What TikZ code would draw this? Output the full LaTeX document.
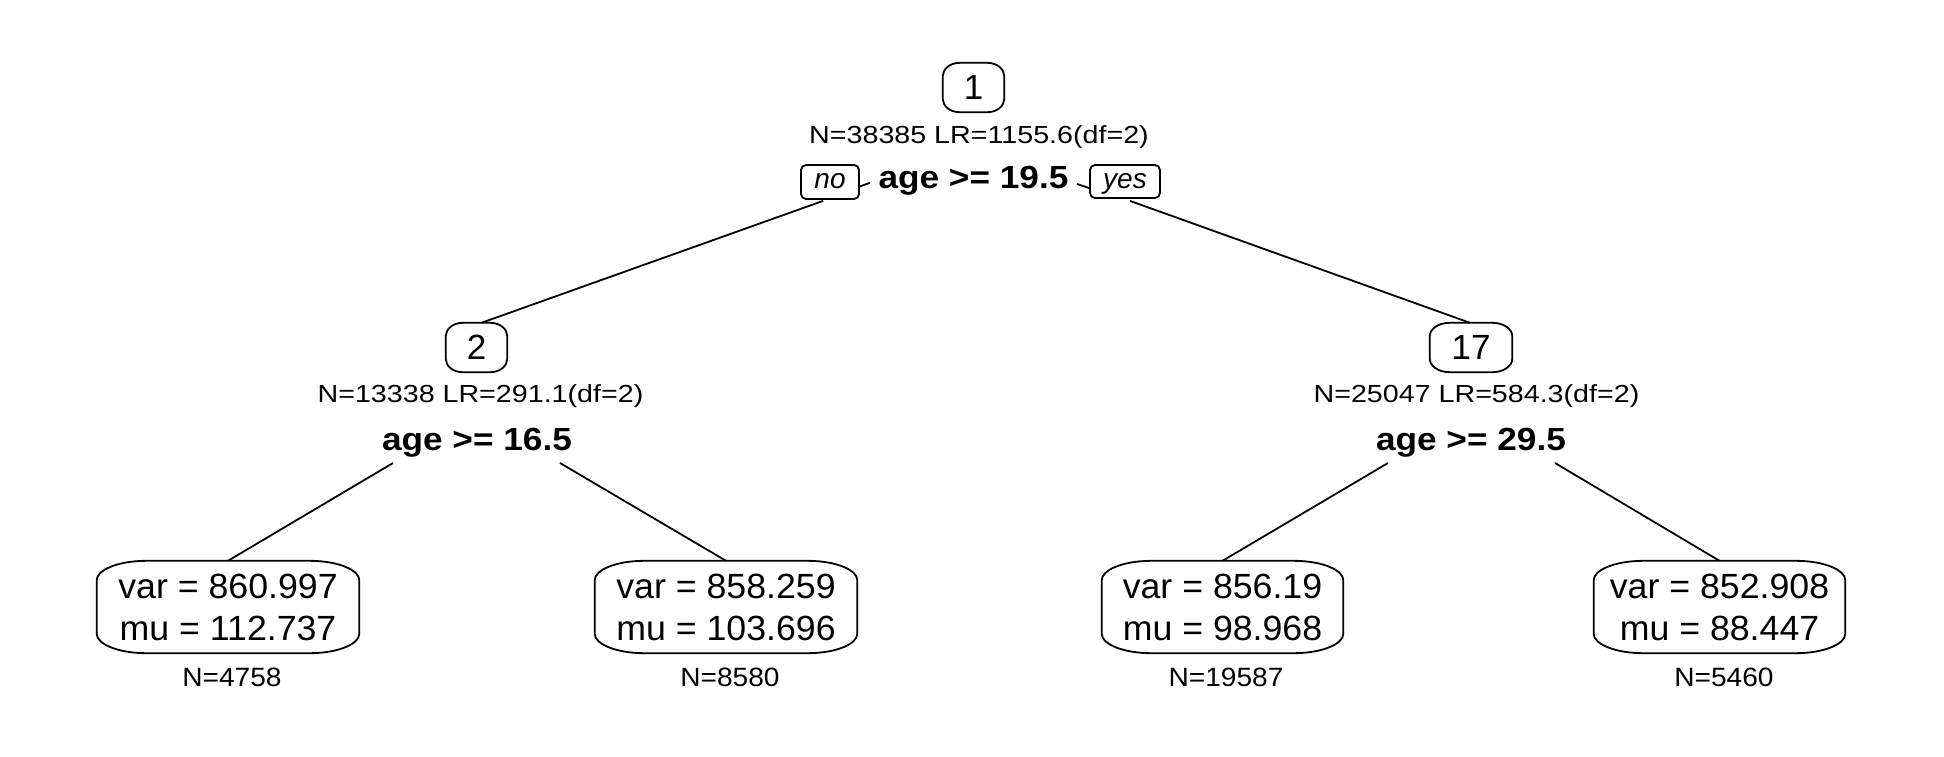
\documentclass[tikz,border=0pt]{standalone}
\usepackage{fontspec}
\usepackage{graphicx}
\setmainfont{Liberation Sans}
\usetikzlibrary{calc}
\newcommand\sx[2]{\scalebox{#1}[1]{#2}}
\newcommand\rpbox[3]{%
  \draw[ln] ($(#1.north west)+(0,#3)$)
    .. controls ($(#1.north west)+(0,0.52*#3)$) and ($(#1.north west)+(0.39*#2,0)$) .. ($(#1.north west)+(#2,0)$)
    -- ($(#1.north east)+(-#2,0)$)
    .. controls ($(#1.north east)+(-0.39*#2,0)$) and ($(#1.north east)+(0,0.52*#3)$) .. ($(#1.north east)+(0,#3)$)
    -- ($(#1.south east)+(0,-#3)$)
    .. controls ($(#1.south east)+(0,-0.52*#3)$) and ($(#1.south east)+(-0.39*#2,0)$) .. ($(#1.south east)+(-#2,0)$)
    -- ($(#1.south west)+(#2,0)$)
    .. controls ($(#1.south west)+(0.39*#2,0)$) and ($(#1.south west)+(0,-0.52*#3)$) .. ($(#1.south west)+(0,-#3)$)
    -- cycle;}
\tikzset{
  ln/.style={line width=1.8pt, line join=round},
  numbox/.style={inner sep=0pt, minimum height=49pt, font=\fontsize{35}{42}\selectfont},
  leaf/.style={inner sep=0pt, minimum height=92pt, align=center, font=\fontsize{35}{42}\selectfont},
  nline/.style={inner sep=0pt, anchor=base, font=\fontsize{24.7}{30}\selectfont},
  split/.style={inner sep=0pt, anchor=base, font=\bfseries\fontsize{32}{38}\selectfont},
  leafn/.style={inner sep=0pt, anchor=base, font=\fontsize{26.5}{32}\selectfont},
  tag/.style={draw, ln, rounded corners=5pt, inner sep=0pt, text height=17pt, text depth=4pt,
              font=\itshape\fontsize{28}{34}\selectfont},
}
\begin{document}
\begin{tikzpicture}[x=1pt, y=-1pt]
\useasboundingbox (0,0) rectangle (1944,756);

% root
\node[numbox, minimum width=61pt] (n1) at (973.5,87.5) {1};
\rpbox{n1}{17}{13}
\node[nline] (t1) at (979,143.3) {\sx{1.16}{N=38385 LR=1155.6(df=2)}};
\node[split] (s1) at (973.5,188.3) {\sx{1.10}{age >= 19.5}};
\node[tag, minimum width=58pt, minimum height=34pt] (no) at (830,182) {no};
\node[tag, minimum width=70pt, minimum height=33pt] (yes) at (1125,181.5) {yes};
\coordinate (tno) at (870,182.7);
\coordinate (tyes) at (1077,184);
\draw[ln] ($(no.east)+(0,4.5)$) -- (tno);
\draw[ln] (tyes) -- ($(yes.west)+(0,6.5)$);

% node 2
\node[numbox, minimum width=61pt] (n2) at (476.5,347.5) {2};
\rpbox{n2}{17}{13}
\node[nline] (t2) at (480.5,402.3) {\sx{1.16}{N=13338 LR=291.1(df=2)}};
\node[split] (s2) at (477,450) {\sx{1.10}{age >= 16.5}};

% node 17
\node[numbox, minimum width=82pt] (n17) at (1471,347.5) {17};
\rpbox{n17}{20}{13}
\node[nline] (t17) at (1476.5,402.3) {\sx{1.16}{N=25047 LR=584.3(df=2)}};
\node[split] (s17) at (1471,450) {\sx{1.10}{age >= 29.5}};

% leaves
\node[leaf, minimum width=262pt] (l1) at (228,607) {\sx{1.02}{var = 860.997}\\\sx{1.02}{mu = 112.737}};
\rpbox{l1}{50}{19}
\node[leaf, minimum width=262pt] (l2) at (726,607) {\sx{1.02}{var = 858.259}\\\sx{1.02}{mu = 103.696}};
\rpbox{l2}{50}{19}
\node[leaf, minimum width=241pt] (l3) at (1222.5,607) {\sx{1.02}{var = 856.19}\\\sx{1.02}{mu = 98.968}};
\rpbox{l3}{50}{19}
\node[leaf, minimum width=251pt] (l4) at (1719.5,607) {\sx{1.02}{var = 852.908}\\\sx{1.02}{mu = 88.447}};
\rpbox{l4}{50}{19}

\node[leafn] (c1) at (232,686) {\sx{1.06}{N=4758}};
\node[leafn] (c2) at (730,686) {\sx{1.06}{N=8580}};
\node[leafn] (c3) at (1226,686) {\sx{1.06}{N=19587}};
\node[leafn] (c4) at (1724,686) {\sx{1.06}{N=5460}};

% connectors
\draw[ln] ($(no.south)+(-7,1)$) -- ($(n2.north)+(5,0)$);
\draw[ln] ($(yes.south)+(5,2)$) -- ($(n17.north)+(-1,0)$);
\coordinate (s2l) at (393,463);
\coordinate (s2r) at (560,463);
\coordinate (s17l) at (1388,463);
\coordinate (s17r) at (1555,463);
\draw[ln] (s2l) -- (l1.north);
\draw[ln] (s2r) -- (l2.north);
\draw[ln] (s17l) -- (l3.north);
\draw[ln] (s17r) -- (l4.north);
\end{tikzpicture}
\end{document}
